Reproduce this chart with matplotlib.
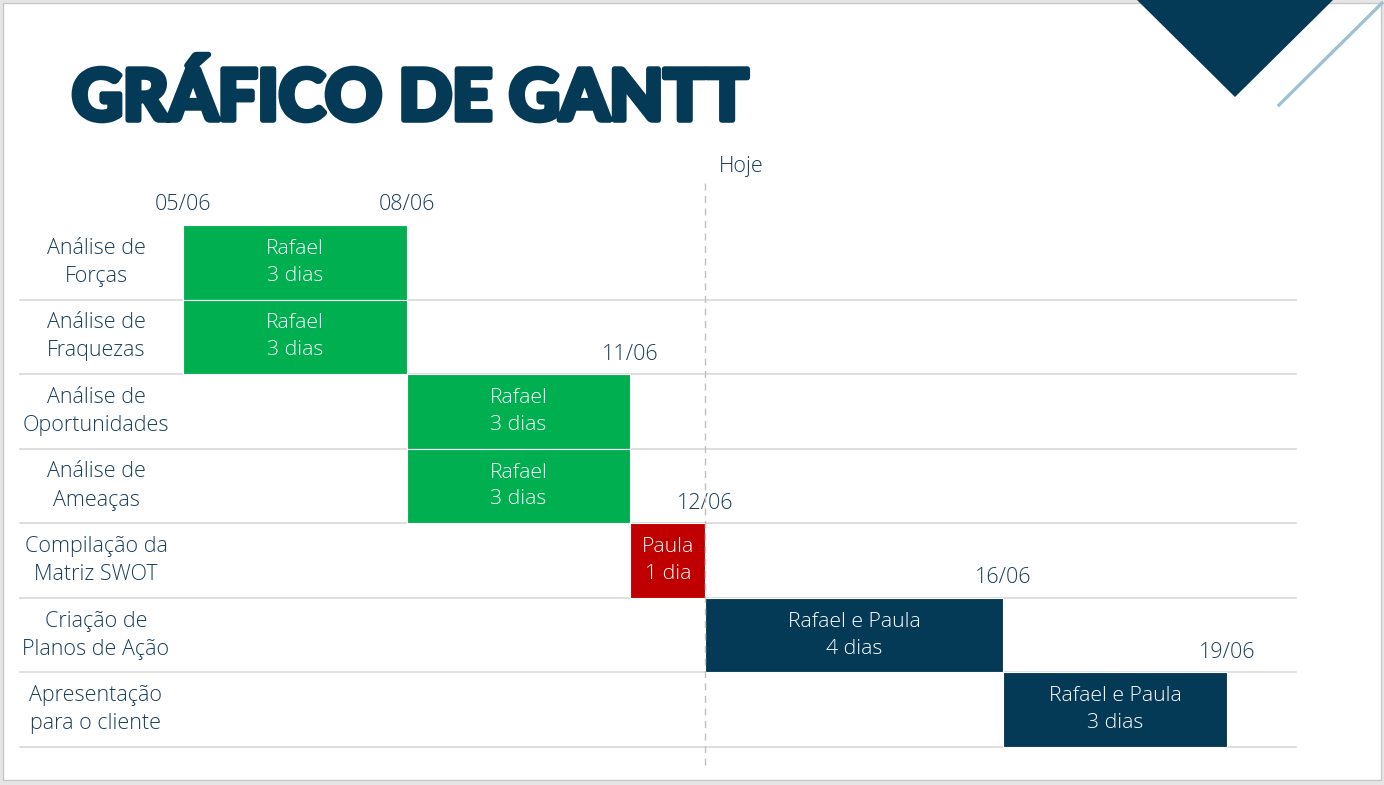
import matplotlib
matplotlib.use("Agg")
import matplotlib.pyplot as plt
import matplotlib.patheffects as pe
from matplotlib.patches import Rectangle, Polygon
from matplotlib.lines import Line2D
from matplotlib.transforms import blended_transform_factory

# dados do cronograma (dias de junho)
tarefas = ["Análise de\nForças", "Análise de\nFraquezas", "Análise de\nOportunidades",
           "Análise de\nAmeaças", "Compilação da\nMatriz SWOT", "Criação de\nPlanos de Ação",
           "Apresentação\npara o cliente"]
inicio = [5, 5, 8, 8, 11, 12, 16]
duracao = [3, 3, 3, 3, 1, 4, 3]
responsavel = ["Rafael", "Rafael", "Rafael", "Rafael", "Paula", "Rafael e Paula", "Rafael e Paula"]
cores = ["#00B050", "#00B050", "#00B050", "#00B050", "#C00000", "#053A57", "#053A57"]

marcos = [5, 8, 11, 12, 16, 19]
marcos_linha = [0, 0, 2, 4, 5, 6]
hoje = 12

W, H = 1384, 785
azul = "#053A57"
texto = "#1B3F5C"
fonte = ["Open Sans", "DejaVu Sans"]

fig = plt.figure(figsize=(W / 100, H / 100), dpi=100)
fig.patch.set_facecolor("#e6e6e6")

def px(x, y):
    return (x / W, 1 - y / H)

# slide
fig.add_artist(Rectangle(px(3, 780), 1378 / W, 777 / H, transform=fig.transFigure,
                         facecolor="white", edgecolor="#c8c8c8", lw=1, zorder=-2))
fig.add_artist(Polygon([px(1137, 0), px(1333, 0), px(1235, 97)], closed=True,
                       transform=fig.transFigure, facecolor=azul, edgecolor="none", zorder=-1))
fig.add_artist(Line2D([1279 / W, 1382 / W], [1 - 105 / H, 1 - 3 / H], transform=fig.transFigure,
                      color="#9DC3D3", lw=2.4, zorder=-1))

titulo = fig.text(72 / W, 1 - 120 / H, "GRÁFICO DE GANTT", ha="left", va="baseline",
                  fontsize=58, fontweight="black", color=azul, family=["Lato", "DejaVu Sans"],
                  path_effects=[pe.withStroke(linewidth=4, foreground=azul)])
fig.canvas.draw()
larg = titulo.get_window_extent().width
titulo.set_fontsize(58 * 676 / larg)

# eixo em dias x linhas
ppd = 74.57
ax = fig.add_axes([0, 0, 1, 1])
ax.axis("off")
x0 = 5 - 183 / ppd
ax.set_xlim(x0, x0 + W / ppd)
y0 = -225 / ppd
ax.set_ylim(y0 + H / ppd, y0)

n = len(tarefas)
for i in range(1, n + 1):
    ax.axhline(i, xmin=20 / W, xmax=1296 / W, color="#d9d9d9", lw=1.2, zorder=1)

ax.barh(range(n), duracao, left=inicio, height=1.0, align="edge", color=cores,
        edgecolor="white", linewidth=0.8, zorder=2)

for i in range(n):
    d = duracao[i]
    rotulo = f"{responsavel[i]}\n{d} {'dia' if d == 1 else 'dias'}"
    ax.text(inicio[i] + d / 2, i + 0.5, rotulo, ha="center", va="center", color="white",
            fontsize=15.3, fontweight="light", family=fonte, linespacing=1.45, zorder=3)

tr = blended_transform_factory(fig.transFigure, ax.transData)
for i, t in enumerate(tarefas):
    ax.text(96 / W, i + 0.5, t, transform=tr, ha="center", va="center", color=texto,
            fontsize=15.5, fontweight="light", family=fonte, linespacing=1.45)

for d, r in zip(marcos, marcos_linha):
    ax.text(d, r - 0.27, f"{d:02d}/06", ha="center", va="center", color=texto,
            fontsize=15.5, fontweight="light", family=fonte)

ax.plot([hoje, hoje], [-0.56, 7.28], color="#bfbfbf", lw=1, ls=(0, (5, 4)), zorder=4)
ax.text(hoje + 0.19, -0.79, "Hoje", ha="left", va="center", color=texto,
        fontsize=15.5, fontweight="light", family=fonte)

fig.savefig("out.png", dpi=100, facecolor=fig.get_facecolor())
